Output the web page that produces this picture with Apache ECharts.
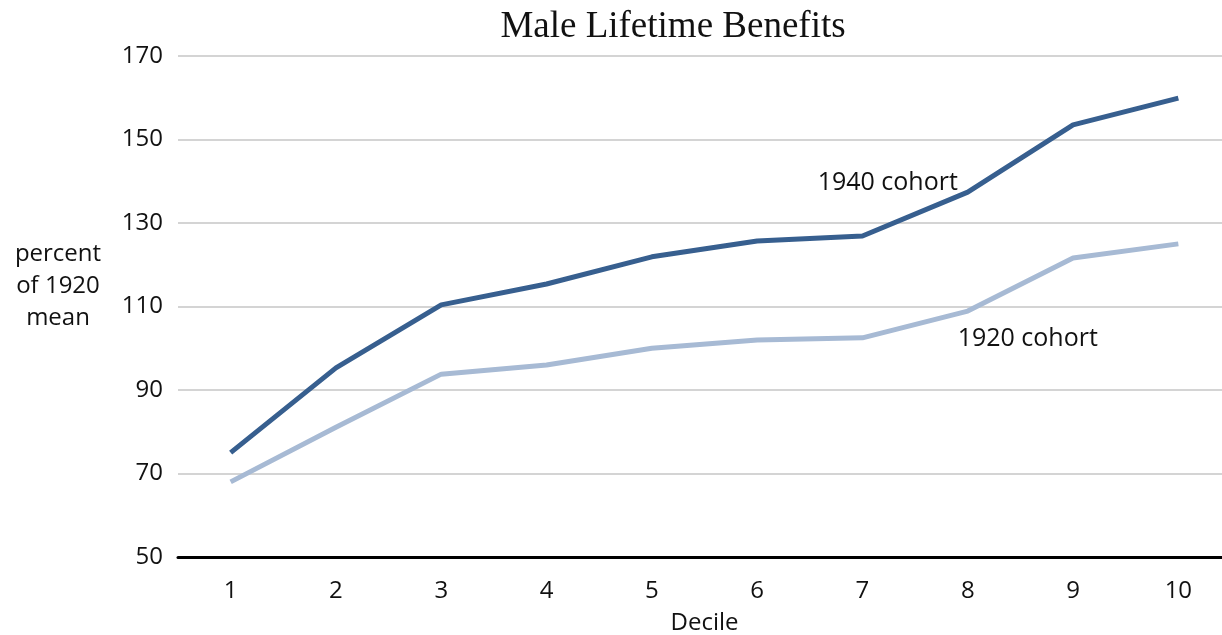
<!DOCTYPE html>
<html>
<head>
<meta charset="utf-8">
<script src="https://cdn.jsdelivr.net/npm/echarts@6/dist/echarts.min.js"></script>
<style>html,body{margin:0;padding:0;background:#fff}#c{width:1222px;height:635px}</style>
</head>
<body>
<div id="c"></div>
<script>
const deciles = ['1','2','3','4','5','6','7','8','9','10'];
const cohort1940 = [75, 95.3, 110.4, 115.4, 121.9, 125.7, 126.9, 137.4, 153.5, 159.9];
const cohort1920 = [68, 81.1, 93.8, 96, 100, 102, 102.5, 108.9, 121.6, 125];
const yTicks = {min: 50, max: 170, interval: 20};
const titleText = 'Male Lifetime Benefits';
const yName = 'percent\nof 1920\nmean';
const xName = 'Decile';

const font = '"Open Sans", "Noto Sans", sans-serif';
const chart = echarts.init(document.getElementById('c'), null, {renderer: 'canvas'});
chart.setOption({
  animation: false,
  backgroundColor: '#fff',
  title: {
    text: titleText,
    left: 668, top: 4, textAlign: 'center',
    textStyle: {fontFamily: '"Liberation Serif", "DejaVu Serif", serif', fontSize: 37, fontWeight: 'normal', color: '#111'}
  },
  grid: {left: 178, right: -9, top: 56, bottom: 78, containLabel: false, outerBoundsMode: 'none'},
  xAxis: {
    type: 'category', data: deciles, boundaryGap: true,
    name: xName, nameLocation: 'middle', nameGap: 54,
    nameTextStyle: {fontFamily: font, fontSize: 24, color: '#111'},
    axisLine: {lineStyle: {color: '#000', width: 3}},
    axisTick: {show: false},
    axisLabel: {fontFamily: font, fontSize: 24, color: '#111', margin: 22}
  },
  yAxis: {
    type: 'value', min: yTicks.min, max: yTicks.max, interval: yTicks.interval,
    axisLine: {show: false}, axisTick: {show: false},
    axisLabel: {fontFamily: font, fontSize: 24, color: '#111', margin: 15},
    splitLine: {lineStyle: {color: '#d4d4d4', width: 2}}
  },
  graphic: [{
    type: 'text', x: 58, y: 238,
    style: {text: yName, fontFamily: font, fontSize: 24, fill: '#111', align: 'center', textAlign: 'center', lineHeight: 32}
  }],
  series: [
    {
      name: '1920 cohort', type: 'line', data: cohort1920, symbol: 'none',
      lineStyle: {color: '#a7bad4', width: 5},
      markPoint: {
        symbol: 'circle', symbolSize: 1, itemStyle: {color: 'rgba(0,0,0,0)'},
        data: [{coord: ['8', cohort1920[7]], label: {show: true, formatter: '1920 cohort', position: 'inside', offset: [60, 28], fontFamily: font, fontSize: 25, color: '#111'}}]
      }
    },
    {
      name: '1940 cohort', type: 'line', data: cohort1940, symbol: 'none',
      lineStyle: {color: '#375f8f', width: 5},
      markPoint: {
        symbol: 'circle', symbolSize: 1, itemStyle: {color: 'rgba(0,0,0,0)'},
        data: [{coord: ['8', cohort1940[7]], label: {show: true, formatter: '1940 cohort', position: 'inside', offset: [-80, -9], fontFamily: font, fontSize: 25, color: '#111'}}]
      }
    }
  ]
});
</script>
</body>
</html>
